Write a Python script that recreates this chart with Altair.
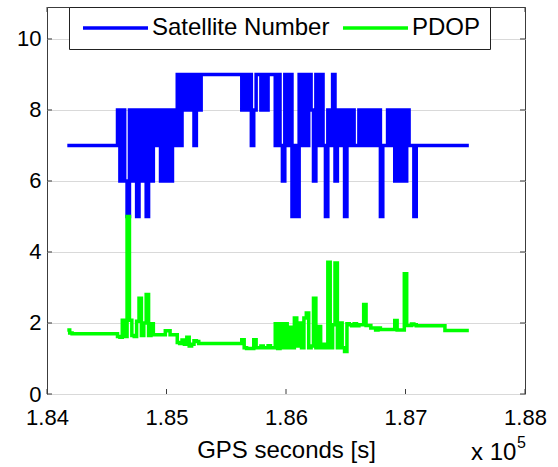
import altair as alt
import pandas as pd

# ---- data (one sample every 20 GPS seconds) ----
T0 = 184170          # first sample, GPS seconds
DT = 20              # sampling step in seconds

sat_number = [
    7, 7, 7, 7, 7, 7, 7, 7, 7, 7,
    7, 7, 7, 7, 7, 7, 7, 7, 7, 7,
    7, 8, 6, 8, 6, 5, 8, 6, 8, 5,
    8, 6, 8, 5, 8, 6, 8, 7, 8, 6,
    8, 6, 8, 6, 8, 7, 9, 7, 9, 8,
    9, 8, 9, 7, 9, 8, 9, 9, 9, 9,
    9, 9, 9, 9, 9, 9, 9, 9, 9, 9,
    9, 9, 9, 8, 9, 8, 9, 7, 8, 9,
    9, 8, 9, 8, 9, 9, 9, 7, 9, 7,
    6, 9, 7, 9, 5, 7, 5, 9, 7, 9,
    7, 9, 8, 6, 9, 7, 9, 7, 5, 8,
    7, 9, 6, 8, 7, 8, 5, 8, 7, 8,
    7, 7, 8, 7, 8, 7, 8, 7, 8, 7,
    8, 5, 7, 7, 8, 7, 8, 6, 8, 6,
    8, 6, 8, 7, 7, 5, 7, 7, 7, 7,
    7, 7, 7, 7, 7, 7, 7, 7, 7, 7,
    7, 7, 7, 7, 7, 7, 7, 7, 7,
]

pdop = [
    1.80, 1.72, 1.70, 1.70, 1.70, 1.70, 1.70, 1.70, 1.70, 1.70,
    1.70, 1.70, 1.70, 1.70, 1.70, 1.70, 1.70, 1.70, 1.70, 1.70,
    1.70, 1.62, 1.60, 2.08, 1.62, 5.00, 2.08, 1.65, 1.62, 2.05,
    2.70, 1.65, 2.00, 2.80, 1.65, 1.98, 1.67, 1.67, 1.67, 1.67,
    1.67, 1.78, 1.78, 1.67, 1.67, 1.67, 1.45, 1.42, 1.52, 1.40,
    1.60, 1.35, 1.40, 1.50, 1.48, 1.42, 1.42, 1.42, 1.42, 1.42,
    1.42, 1.42, 1.42, 1.42, 1.42, 1.42, 1.42, 1.42, 1.42, 1.42,
    1.42, 1.42, 1.42, 1.53, 1.30, 1.28, 1.28, 1.28, 1.53, 1.30,
    1.30, 1.35, 1.30, 1.30, 1.36, 1.30, 1.30, 1.98, 1.28, 1.98,
    1.30, 1.98, 1.30, 1.88, 1.30, 2.14, 1.35, 2.00, 1.30, 2.14,
    2.28, 1.30, 1.35, 2.70, 1.30, 1.90, 1.30, 1.40, 1.30, 3.71,
    1.30, 1.95, 3.69, 1.30, 2.00, 1.30, 1.20, 1.98, 1.95, 1.92,
    1.98, 1.92, 1.95, 1.95, 2.52, 1.93, 1.93, 1.86, 1.86, 1.80,
    1.86, 1.82, 1.82, 1.82, 1.82, 1.82, 1.82, 2.07, 1.80, 1.80,
    1.80, 3.39, 1.93, 1.93, 1.97, 1.95, 1.92, 1.92, 1.92, 1.92,
    1.92, 1.92, 1.92, 1.92, 1.92, 1.92, 1.92, 1.92, 1.79, 1.79,
    1.79, 1.79, 1.79, 1.79, 1.79, 1.79, 1.79, 1.79, 1.79,
]

series_names = ["Satellite Number", "PDOP"]
series_colors = ["#0000ff", "#00ff00"]
x_ticks = [184000, 185000, 186000, 187000, 188000]
y_ticks = [0, 2, 4, 6, 8, 10]
x_title = "GPS seconds [s]"
exp_base = "x 10"
exp_power = "5"

# ---- layout ----
W, H = 478, 387
FONT = "Liberation Sans"
TICK = 5

n = len(sat_number)
gps = [T0 + DT * i for i in range(n)]
df = pd.DataFrame({
    "gps": gps + gps,
    "value": sat_number + pdop,
    "series": [series_names[0]] * n + [series_names[1]] * n,
})

xscale = alt.Scale(domain=[184000, 188000], nice=False, zero=False)
yscale = alt.Scale(domain=[0, 10.9], nice=False, zero=False)

xaxis = alt.Axis(values=x_ticks, labelExpr="format(datum.value / 100000, '.2f')",
                 title=x_title, grid=False, domain=False, ticks=False,
                 labelFontSize=22, labelPadding=13, titleFontSize=24,
                 titleFontWeight="normal", titlePadding=10, labelFlush=False,
                 labelColor="black", titleColor="black")
yaxis = alt.Axis(values=y_ticks, title=None, grid=True, gridColor="#d9d9d9",
                 gridWidth=1, domain=False, ticks=False, labelFontSize=22,
                 labelPadding=6, labelColor="black")

def X(field="gps"):
    return alt.X(f"{field}:Q", scale=xscale, axis=xaxis)

def Y(field="value"):
    return alt.Y(f"{field}:Q", scale=yscale, axis=yaxis)

color = alt.Color(
    "series:N",
    scale=alt.Scale(domain=series_names, range=series_colors),
    legend=alt.Legend(
        title=None, orient="none", legendX=22, legendY=0, direction="horizontal",
        symbolType="stroke", symbolSize=4225, symbolStrokeWidth=3.5,
        clipHeight=24, labelFontSize=24, labelFont=FONT, labelColor="black",
        labelOffset=2, symbolOffset=3, columnPadding=8, padding=9,
        fillColor="white", strokeColor="#222222", labelLimit=400,
    ),
)

base = alt.Chart(df)
sat_line = base.transform_filter(alt.datum.series == series_names[0]).mark_line(
    interpolate="step-after", strokeWidth=3.5).encode(x=X(), y=Y(), color=color)
pdop_line = base.transform_filter(alt.datum.series == series_names[1]).mark_line(
    interpolate="step-after", strokeWidth=3.5).encode(x=X(), y=Y(), color=color)

xt = pd.DataFrame({"gps": x_ticks})
yt = pd.DataFrame({"value": y_ticks})
tick_style = dict(color="#3c3c3c", strokeWidth=1)
bottom_ticks = alt.Chart(xt).mark_rule(**tick_style).encode(
    x=X(), y=alt.value(H), y2=alt.value(H - TICK))
top_ticks = alt.Chart(xt).mark_rule(**tick_style).encode(
    x=X(), y=alt.value(0), y2=alt.value(TICK))
left_ticks = alt.Chart(yt).mark_rule(**tick_style).encode(
    y=Y(), x=alt.value(0), x2=alt.value(TICK))
right_ticks = alt.Chart(yt).mark_rule(**tick_style).encode(
    y=Y(), x=alt.value(W), x2=alt.value(W - TICK))

exp_df = pd.DataFrame({"base": [exp_base], "power": [exp_power]})
exp_text = alt.Chart(exp_df).mark_text(
    align="left", baseline="alphabetic", fontSize=24, font=FONT, color="black"
).encode(text="base:N", x=alt.value(424), y=alt.value(453))
exp_pow = alt.Chart(exp_df).mark_text(
    align="left", baseline="alphabetic", fontSize=16, font=FONT, color="black"
).encode(text="power:N", x=alt.value(470), y=alt.value(441))

chart = alt.layer(
    bottom_ticks, top_ticks, left_ticks, right_ticks,
    sat_line, pdop_line, exp_text, exp_pow,
).properties(
    width=W, height=H,
    autosize=alt.AutoSizeParams(type="none"),
    padding={"left": 47, "top": 7, "right": 33, "bottom": 73},
    background="white",
).configure_view(
    stroke="#3c3c3c", strokeWidth=1
).configure_axis(
    labelFont=FONT, titleFont=FONT
)

chart.save("out.html", embed_options={"renderer": "svg", "actions": False})
